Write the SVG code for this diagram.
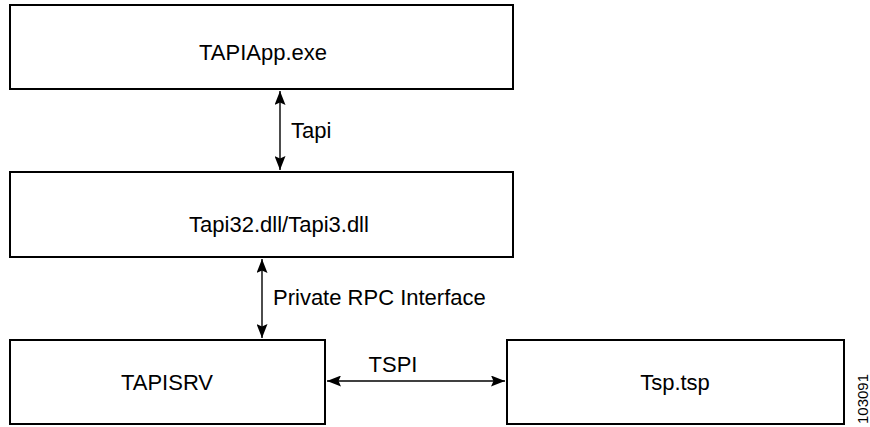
<svg xmlns="http://www.w3.org/2000/svg" width="870" height="427" viewBox="0 0 870 427">
  <style>
    .box { fill: #ffffff; stroke: #000000; stroke-width: 2; }
    .lbl { font-family: "Liberation Sans", Arial, Helvetica, sans-serif; font-size: 22px; fill: #000000; }
    .wire { stroke: #000000; stroke-width: 1.4; fill: none; marker-start: url(#head); marker-end: url(#head); }
  </style>
  <defs>
    <marker id="head" viewBox="0 0 14 11" refX="14" refY="5.5" markerWidth="14" markerHeight="11" markerUnits="userSpaceOnUse" orient="auto-start-reverse">
      <path d="M0,0 L14,5.5 L0,11 L2.5,5.5 Z" fill="#000000"/>
    </marker>
  </defs>

  <rect width="870" height="427" fill="#ffffff"/>

  <g id="tapiapp">
    <rect class="box" x="10" y="5" width="503" height="84"/>
    <text class="lbl" x="263" y="60" text-anchor="middle">TAPIApp.exe</text>
  </g>

  <g id="tapi32">
    <rect class="box" x="10" y="172" width="503" height="85"/>
    <text class="lbl" x="279" y="232" text-anchor="middle">Tapi32.dll/Tapi3.dll</text>
  </g>

  <g id="tapisrv">
    <rect class="box" x="10" y="340" width="315" height="84"/>
    <text class="lbl" x="167" y="390" text-anchor="middle">TAPISRV</text>
  </g>

  <g id="tsp">
    <rect class="box" x="507" y="340" width="337" height="84"/>
    <text class="lbl" x="675" y="390" text-anchor="middle">Tsp.tsp</text>
  </g>

  <g id="connectors">
    <line class="wire" x1="280" y1="91" x2="280" y2="170"/>
    <text class="lbl" x="291" y="138">Tapi</text>
    <line class="wire" x1="262" y1="259" x2="262" y2="338"/>
    <text class="lbl" x="273" y="305">Private RPC Interface</text>
    <line class="wire" x1="327" y1="381" x2="505" y2="381"/>
    <text class="lbl" x="393" y="372" text-anchor="middle">TSPI</text>
  </g>

  <text x="868" y="424" transform="rotate(-90 868 424)" font-family="Liberation Sans, Arial, sans-serif" font-size="15" fill="#000000">103091</text>
</svg>
